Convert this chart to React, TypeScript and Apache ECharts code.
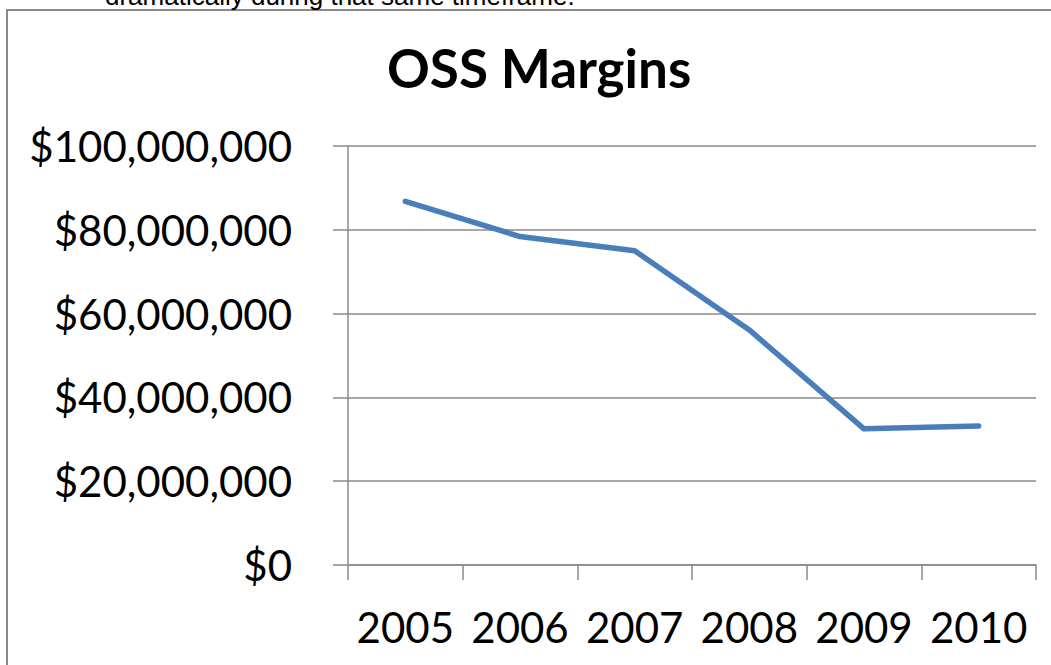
import React, { useEffect, useRef } from "react";
import * as echarts from "echarts";

const years = ["2005", "2006", "2007", "2008", "2009", "2010"];
const margins = [86800000, 78400000, 75000000, 56100000, 32500000, 33200000];
const chartTitle = "OSS Margins";
const cutText = "dramatically during that same timeframe.";

const fmt = (v: number) => "$" + Math.round(v).toString().replace(/\B(?=(\d{3})+(?!\d))/g, ",");

export default function App() {
  const ref = useRef<HTMLDivElement>(null);
  useEffect(() => {
    const chart = echarts.init(ref.current!, null, { renderer: "svg" });
    chart.setOption({
      animation: false,
      backgroundColor: "#ffffff",
      title: {
        text: chartTitle,
        left: 382,
        top: 36,
        textStyle: { fontFamily: "Lato", fontWeight: "bold", fontSize: 53, color: "#000" },
      },
      graphic: [
        {
          type: "rect",
          shape: { x: 7, y: 10, width: 1200, height: 800 },
          style: { fill: "none", stroke: "#8a8a8a", lineWidth: 2 },
          silent: true,
        },
        {
          type: "text",
          x: 105,
          y: -4,
          style: {
            text: cutText,
            fontFamily: "Liberation Sans",
            fontSize: 26,
            fill: "#000",
            verticalAlign: "middle",
            align: "left",
          },
        },
      ],
      grid: { left: 348, right: 15, top: 146, bottom: 100, containLabel: false },
      xAxis: {
        type: "category",
        data: years,
        boundaryGap: true,
        axisLine: { show: true, lineStyle: { color: "#8a8a8a", width: 1.5 } },
        axisTick: { show: true, interval: 0, length: 15, lineStyle: { color: "#8a8a8a", width: 1.5 } },
        axisLabel: { interval: 0, margin: 41, fontFamily: "Lato", fontSize: 42, color: "#000" },
      },
      yAxis: {
        type: "value",
        min: 0,
        max: 100000000,
        interval: 20000000,
        axisLine: { show: true, lineStyle: { color: "#8a8a8a", width: 1.5 } },
        axisTick: { show: true, length: 15, lineStyle: { color: "#8a8a8a", width: 1.5 } },
        splitLine: { show: true, lineStyle: { color: "#8a8a8a", width: 1.5 } },
        axisLabel: {
          margin: 56,
          fontFamily: "Lato",
          fontSize: 42,
          color: "#000",
          formatter: (v: number) => fmt(v),
        },
      },
      series: [
        {
          type: "line",
          data: margins,
          symbol: "none",
          lineStyle: { color: "#4a7ebb", width: 5.5, cap: "round", join: "round" },
        },
      ],
    });
    return () => chart.dispose();
  }, []);
  return (
    <div
      ref={ref}
      style={{ position: "absolute", left: 0, top: 0, width: 1051, height: 665 }}
    />
  );
}
